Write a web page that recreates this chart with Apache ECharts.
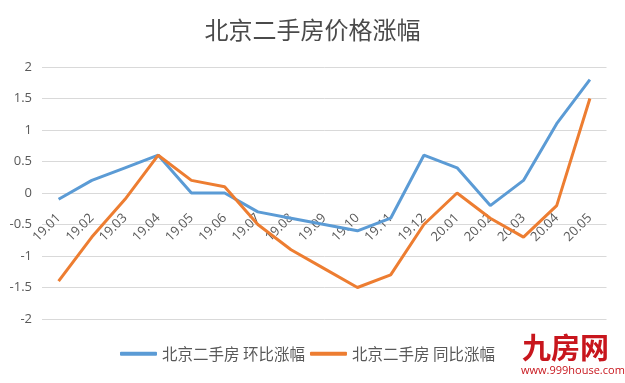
<!DOCTYPE html>
<html><head><meta charset="utf-8">
<script src="https://cdn.jsdelivr.net/npm/echarts@6/dist/echarts.min.js"></script>
<style>html,body{margin:0;padding:0;background:#fff}#c{width:625px;height:383px}</style>
</head><body><div id="c"></div>
<script>
const categories = ['19.01','19.02','19.03','19.04','19.05','19.06','19.07','19.08','19.09','19.10','19.11','19.12','20.01','20.02','20.03','20.04','20.05'];
const momValues = [-0.1,0.2,0.4,0.6,0,0,-0.3,-0.4,-0.5,-0.6,-0.4,0.6,0.4,-0.2,0.2,1.1,1.8];
const yoyValues = [-1.4,-0.7,-0.1,0.6,0.2,0.1,-0.5,-0.9,-1.2,-1.5,-1.3,-0.5,0,-0.4,-0.7,-0.2,1.5];
const seriesNames = ['北京二手房 环比涨幅','北京二手房 同比涨幅'];
const chart = echarts.init(document.getElementById('c'));
chart.setOption({
  backgroundColor:'#fff',
  animation:false,
  title:{text:'北京二手房价格涨幅',left:'center',top:13,textStyle:{fontFamily:'Noto Sans CJK SC',fontSize:24,fontWeight:'normal',color:'#4a4a4a'}},
  grid:{left:42,right:18.5,top:67,bottom:64},
  legend:{top:341,left:115,itemWidth:37,itemHeight:4,itemGap:5,icon:'roundRect',
    textStyle:{fontFamily:'Noto Sans CJK SC',fontSize:15.5,color:'#595959'},
    data:seriesNames},
  xAxis:{type:'category',data:categories,boundaryGap:true,position:'bottom',offset:-126,
    axisLine:{show:false,onZero:false},
    axisTick:{show:false},
    axisLabel:{rotate:45,margin:23,interval:0,fontFamily:'Open Sans',fontSize:13,color:'#595959'}},
  yAxis:{type:'value',min:-2,max:2,interval:0.5,
    axisLine:{show:false},axisTick:{show:false},
    splitLine:{lineStyle:{color:'#d9d9d9',width:1}},
    axisLabel:{margin:10,fontFamily:'Open Sans',fontSize:13,color:'#595959'}},
  series:[
    {name:seriesNames[0],type:'line',data:momValues,showSymbol:false,symbol:'none',lineStyle:{color:'#5B9BD5',width:3},itemStyle:{color:'#5B9BD5'}},
    {name:seriesNames[1],type:'line',data:yoyValues,showSymbol:false,symbol:'none',lineStyle:{color:'#ED7D31',width:3},itemStyle:{color:'#ED7D31'}}
  ],
  graphic:[
    {type:'text',left:522,top:333,style:{text:'九房网',fontFamily:'Noto Sans CJK SC',fontSize:29,fontWeight:'bold',fill:'#c8161d'}},
    {type:'text',left:521,top:365,style:{text:'www.999house.com',fontFamily:'Open Sans',fontSize:11,fill:'#c8161d'}}
  ]
});
</script></body></html>
